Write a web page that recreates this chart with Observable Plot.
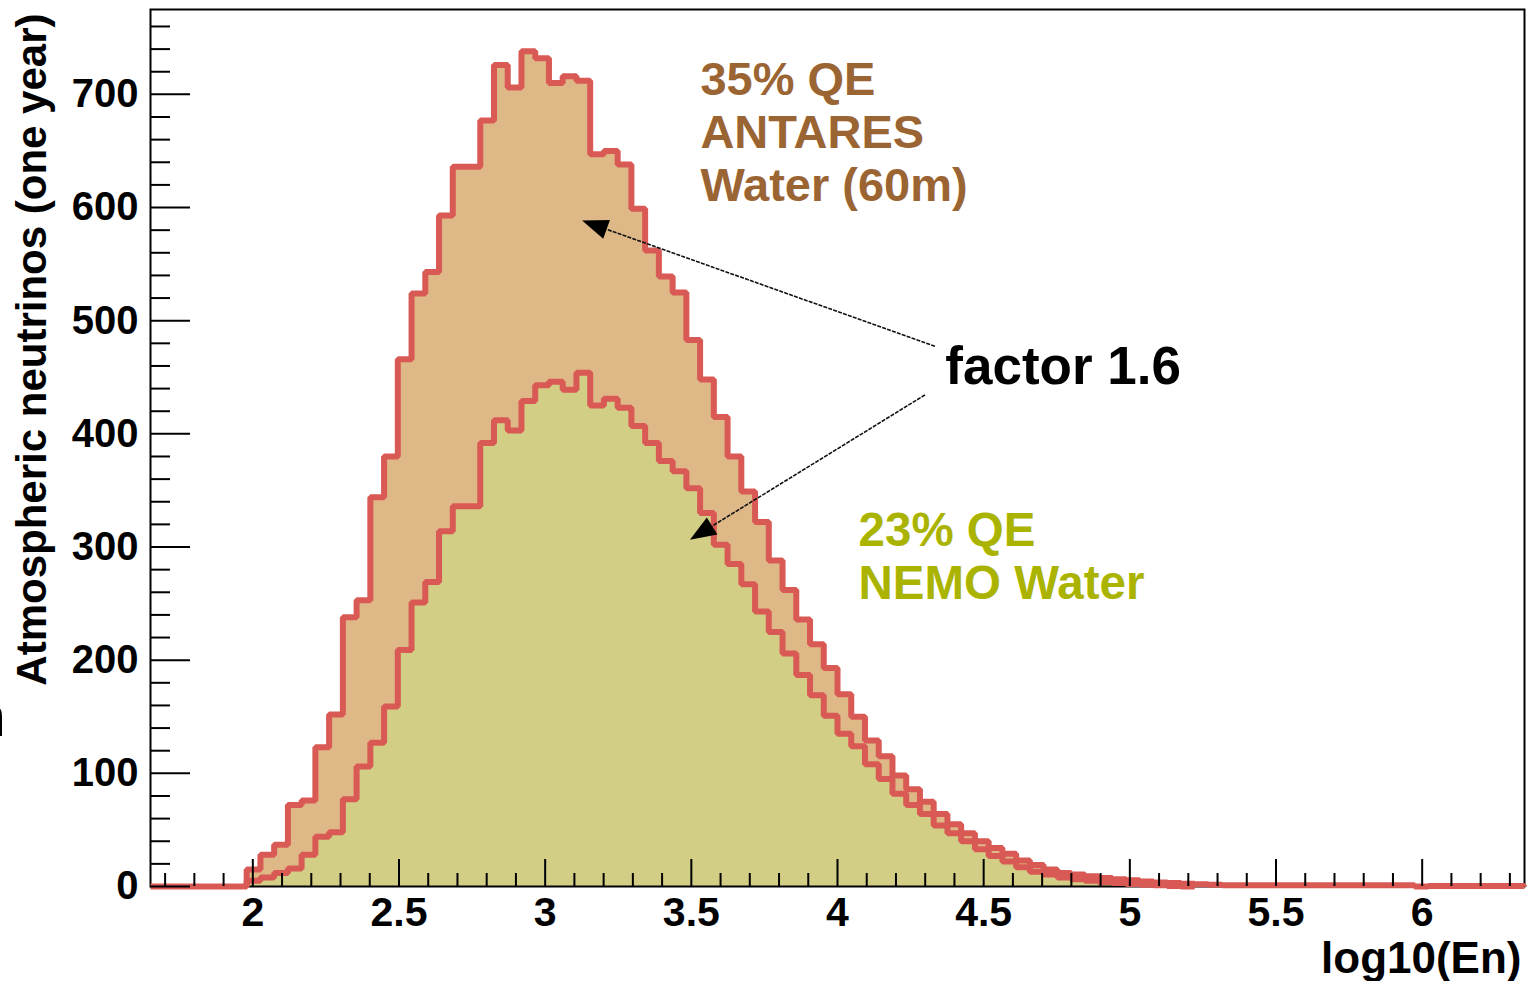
<!DOCTYPE html>
<html>
<head>
<meta charset="utf-8">
<script src="https://cdn.jsdelivr.net/npm/d3@7"></script>
<script src="https://cdn.jsdelivr.net/npm/@observablehq/plot@0.6"></script>
<style>
  html, body { margin: 0; padding: 0; background: #fff; }
  #chart svg { display: block; }
</style>
</head>
<body>
<div id="chart"></div>
<script>
// Histogram binning on log10(En): 100 bins from 1.65 to 6.35
const binLow = 1.65;
const binWidth = 0.047;

// Atmospheric neutrinos per bin (one year), 35% QE ANTARES water (60 m)
const antaresCounts = [
  0, 0, 0, 0, 0, 0, 0,
  15, 28, 37, 72, 76, 123, 152, 238, 253,
  344, 380, 466, 524, 543, 593, 636, 636, 677, 726,
  706, 738, 732, 710, 716, 712, 647, 650, 638, 599,
  562, 539, 525, 483, 448, 415, 380, 349, 322, 288,
  262, 236, 214, 193, 170, 150, 129, 115, 98, 86,
  75, 64, 55, 47, 40, 34, 29, 23, 19, 15,
  12, 10.5, 9, 7.5, 6.5, 5.5, 4.5, 3.5, 3, 2.5,
  2, 1.5, 1, 1, 1, 1, 1, 1, 1, 1,
  1, 1, 1, 1, 1, 1, 0, 0.5, 0.5, 0.5,
  0.5, 0.5, 0.5, 0.5
];

// Atmospheric neutrinos per bin (one year), 23% QE NEMO water
const nemoCounts = [
  0, 0, 0, 0, 0, 0, 0,
  5, 8, 12, 16, 28, 44, 48, 77, 106,
  127, 159, 209, 251, 269, 314, 336, 336, 392, 412,
  403, 429, 443, 446, 439, 454, 425, 431, 423, 407,
  392, 376, 367, 352, 330, 302, 285, 267, 243, 225,
  206, 187, 169, 151, 135, 124, 108, 95, 82, 72,
  64, 54, 47, 40, 33, 27, 22, 17, 13, 10.5,
  8, 6.5, 5, 4, 3, 2.3, 1.5, 1, 0.5, 0,
  0, 0, 0, 0, 0, 0, 0, 0, 0, 0,
  0, 0, 0, 0, 0, 0, 0, 0, 0, 0,
  0, 0, 0, 0
];

const yMajorTicks = [0, 100, 200, 300, 400, 500, 600, 700];
const yTickLabels = ["0", "100", "200", "300", "400", "500", "600", "700"];
const xMajorTicks = [2, 2.5, 3, 3.5, 4, 4.5, 5, 5.5, 6];
const xTickLabels = ["2", "2.5", "3", "3.5", "4", "4.5", "5", "5.5", "6"];

// Annotation arrows pointing from the "factor 1.6" label to each curve
const arrows = [
  {x1: 4.335, y1: 477, x2: 3.128, y2: 588},
  {x1: 4.301, y1: 434, x2: 3.497, y2: 306}
];

const width = 1527, height = 981;
const margin = {top: 9, right: 3, bottom: 95, left: 150};
const plotW = width - margin.left - margin.right;
const plotH = height - margin.top - margin.bottom;

const yMinorTicks = d3.range(20, 761, 20).filter(v => v % 100 !== 0);
const xMinorTicks = d3.range(17, 64).map(v => v / 10).filter(v => Math.round(v * 10) % 5 !== 0);

// Outline points of a histogram: each bin contributes its two edges at its height
function outline(counts, first, last) {
  const pts = [{x: binLow + first * binWidth, y: 0}];
  for (let i = first; i < last; i++) {
    pts.push({x: binLow + i * binWidth, y: counts[i]});
    pts.push({x: binLow + (i + 1) * binWidth, y: counts[i]});
  }
  pts.push({x: binLow + last * binWidth, y: 0});
  return pts;
}

const antaresPts = outline(antaresCounts, 0, antaresCounts.length);
const nemoPts = outline(nemoCounts, 7, 76);

const red = "#d95a55";
const font = "'Liberation Sans', Arial, Helvetica, sans-serif";

function arrowMark(index, scales) {
  const g = d3.create("svg:g");
  for (const a of arrows) {
    const x1 = scales.x(a.x1), y1 = scales.y(a.y1);
    const x2 = scales.x(a.x2), y2 = scales.y(a.y2);
    const ang = Math.atan2(y2 - y1, x2 - x1);
    const len = 26, half = 10;
    const bx = x2 - len * Math.cos(ang), by = y2 - len * Math.sin(ang);
    g.append("line")
      .attr("x1", x1).attr("y1", y1).attr("x2", bx).attr("y2", by)
      .attr("stroke", "#111").attr("stroke-width", 1.6)
      .attr("stroke-dasharray", "4 1.2");
    g.append("path")
      .attr("d", `M${x2},${y2}L${bx + half * Math.sin(ang)},${by - half * Math.cos(ang)}L${bx - half * Math.sin(ang)},${by + half * Math.cos(ang)}Z`)
      .attr("fill", "#000");
  }
  return g.node();
}

const chart = Plot.plot({
  width, height,
  marginTop: margin.top, marginRight: margin.right,
  marginBottom: margin.bottom, marginLeft: margin.left,
  style: {fontFamily: font, background: "#fff", overflow: "hidden"},
  x: {domain: [1.65, 6.35], axis: null},
  y: {domain: [0, 775], axis: null},
  marks: [
    Plot.area(antaresPts, {x1: "x", y1: 0, y2: "y", fill: "#deb887"}),
    Plot.area(nemoPts, {x1: "x", y1: 0, y2: "y", fill: "#d3ce86"}),
    Plot.frame({stroke: "#000", strokeWidth: 2}),
    Plot.line(antaresPts, {x: "x", y: "y", stroke: red, strokeWidth: 6, strokeLinejoin: "miter", strokeLinecap: "butt"}),
    Plot.line(nemoPts, {x: "x", y: "y", stroke: red, strokeWidth: 6, strokeLinejoin: "miter", strokeLinecap: "butt"}),
    // ticks drawn inside the frame
    Plot.tickY(yMajorTicks, {y: d => d, stroke: "#000", strokeWidth: 2, insetRight: plotW - 40}),
    Plot.tickY(yMinorTicks, {y: d => d, stroke: "#000", strokeWidth: 2, insetRight: plotW - 20}),
    Plot.tickX(xMajorTicks, {x: d => d, stroke: "#000", strokeWidth: 2, insetTop: plotH - 27}),
    Plot.tickX(xMinorTicks, {x: d => d, stroke: "#000", strokeWidth: 2, insetTop: plotH - 13}),
    // tick labels
    Plot.text(yMajorTicks, {y: d => d, text: (d, i) => yTickLabels[i], frameAnchor: "left", dx: -12,
      textAnchor: "end", lineAnchor: "middle", fontSize: 40, fontWeight: "bold", fill: "#000"}),
    Plot.text(xMajorTicks, {x: d => d, text: (d, i) => xTickLabels[i], frameAnchor: "bottom", dy: 10,
      lineAnchor: "top", fontSize: 41, fontWeight: "bold", fill: "#000"}),
    // axis titles
    Plot.text(["log10(En)"], {frameAnchor: "bottom-right", dx: -3, dy: 86, textAnchor: "end",
      lineAnchor: "bottom", fontSize: 44, fontWeight: "bold", fill: "#000"}),
    Plot.text(["Atmospheric neutrinos (one year)"], {frameAnchor: "top-left", dx: -118, dy: 4, rotate: -90,
      textAnchor: "end", lineAnchor: "middle", fontSize: 42, fontWeight: "bold", fill: "#000"}),
    Plot.text(["n"], {y: 133, frameAnchor: "left", dx: -177, textAnchor: "start", lineAnchor: "bottom",
      fontSize: 58, fill: "#000"}),
    // annotations
    arrowMark,
    Plot.text(["35% QE\nANTARES\nWater (60m)"], {x: 3.531, y: 733, textAnchor: "start", lineAnchor: "top",
      lineHeight: 1.13, fontSize: 47, fontWeight: "bold", fill: "#9b6533"}),
    Plot.text(["23% QE\nNEMO Water"], {x: 4.072, y: 335, textAnchor: "start", lineAnchor: "top",
      lineHeight: 1.13, fontSize: 47.5, fontWeight: "bold", fill: "#aab400"}),
    Plot.text(["factor 1.6"], {x: 4.369, y: 477, textAnchor: "start", lineAnchor: "top",
      fontSize: 53, fontWeight: "bold", fill: "#000"})
  ]
});

document.getElementById("chart").appendChild(chart);
</script>
</body>
</html>
